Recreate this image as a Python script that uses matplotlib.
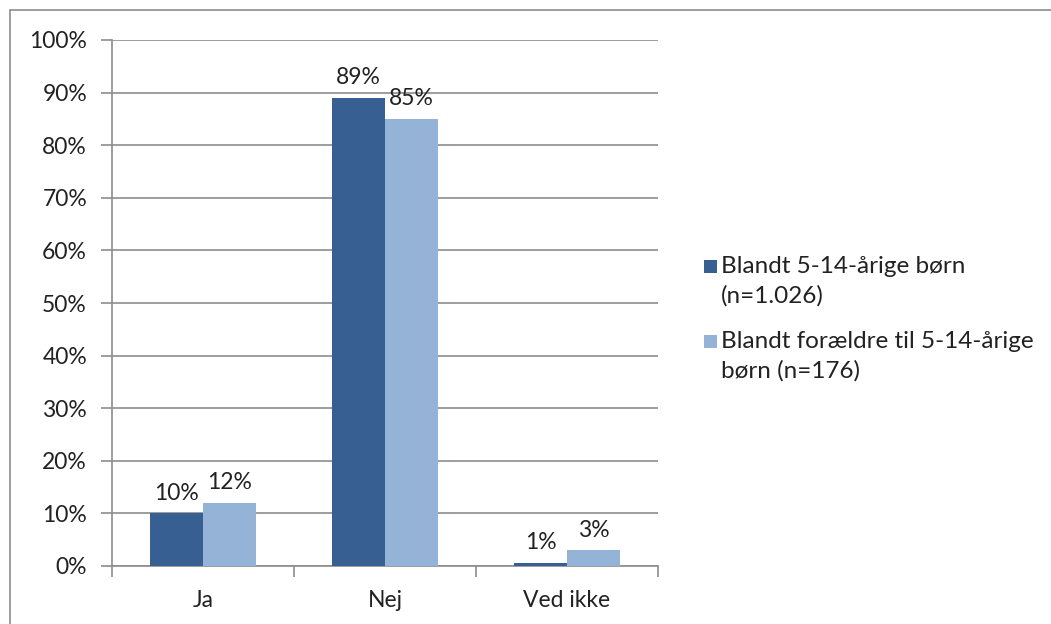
import matplotlib
matplotlib.use("Agg")
import matplotlib.pyplot as plt
from matplotlib.patches import Rectangle
import numpy as np

categories = ["Ja", "Nej", "Ved ikke"]
series_names = ["Blandt 5-14-årige børn\n(n=1.026)",
                "Blandt forældre til 5-14-årige\nbørn (n=176)"]
children = [10, 89, 0.6]
parents = [12, 85, 3]
yticks = [0, 10, 20, 30, 40, 50, 60, 70, 80, 90, 100]
colors = ["#375F91", "#95B3D7"]

plt.rcParams['font.family'] = ['Lato', 'DejaVu Sans']
FS = 16.5
LFS = 17.5
W, H = 1051, 624
fig = plt.figure(figsize=(W/100, H/100), dpi=100)
fig.patch.set_facecolor("white")

# outer frame
fig.patches.append(Rectangle((10/W, -0.05), 1.1, 1 - 10/H + 0.05,
                             transform=fig.transFigure, fill=False,
                             edgecolor="#8C8C8C", linewidth=1.2))

ax = fig.add_axes([112/W, 1 - 566/H, (658-112)/W, (566-40)/H])
x = np.arange(len(categories))
w = 0.29
b1 = ax.bar(x - w/2, children, w, color=colors[0], zorder=3)
b2 = ax.bar(x + w/2, parents, w, color=colors[1], zorder=3)

for bars, vals in ((b1, children), (b2, parents)):
    for rect, v in zip(bars, vals):
        ax.text(rect.get_x() + rect.get_width()/2, v + 1.8, f"{round(v)}%",
                ha="center", va="bottom", fontsize=FS, color="#222222")

ax.set_xlim(-0.5, len(categories) - 0.5)
ax.set_ylim(0, 100)
ax.set_yticks(yticks)
ax.set_yticklabels([f"{t}%" for t in yticks], fontsize=FS, color="#222222")
ax.set_xticks(x)
ax.set_xticklabels(categories, fontsize=FS, color="#222222")
ax.tick_params(axis="x", length=0, pad=17)
ax.set_xticks(np.arange(len(categories) + 1) - 0.5, minor=True)
ax.tick_params(axis="x", which="minor", length=8, color="#8C8C8C", width=1.2)
ax.tick_params(axis="y", length=8, color="#8C8C8C", width=1.2, pad=10)
ax.yaxis.grid(True, color="#8C8C8C", linewidth=1.2, zorder=0)
ax.set_axisbelow(True)
for s in ("top", "right"):
    ax.spines[s].set_visible(False)
for s in ("left", "bottom"):
    ax.spines[s].set_color("#8C8C8C")
    ax.spines[s].set_linewidth(1.2)

# legend drawn manually: square aligned with first line of each label
entry_top = [273, 348]   # baseline of first line (px from top)
line_gap = 29.5
for name, color, base in zip(series_names, colors, entry_top):
    fig.patches.append(Rectangle((704/W, 1 - base/H), 13/W, 13/H,
                                 transform=fig.transFigure, facecolor=color,
                                 edgecolor="none"))
    for j, line in enumerate(name.split("\n")):
        fig.text(721/W, 1 - (base + j*line_gap)/H, line, ha="left",
                 va="baseline", fontsize=LFS, color="#222222")

fig.savefig("out.png", dpi=100, facecolor="white")
